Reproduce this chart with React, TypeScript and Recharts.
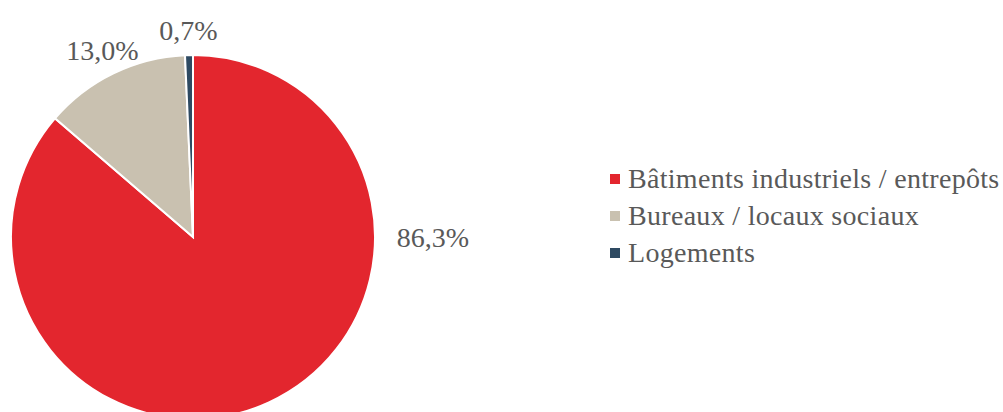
import { Legend, Pie, PieChart } from 'recharts';

const categories = ['Bâtiments industriels / entrepôts', 'Bureaux / locaux sociaux', 'Logements'];
const shares = [86.3, 13.0, 0.7];
const sliceColors = ['#E3262E', '#C9C1B0', '#2E4A62'];

const data = categories.map((name, i) => ({ name, value: shares[i], fill: sliceColors[i] }));

const TEXT = '#595959';
const FONT = '"Liberation Serif", "Times New Roman", serif';
const RAD = Math.PI / 180;

function formatPct(v: number) {
  return `${v.toFixed(1).replace('.', ',')}%`;
}

// Excel parks the big slice's label on the right side; the small ones sit on their mid angle
function SliceLabel(props: any) {
  const { cx, cy, midAngle, outerRadius, value, index } = props;
  const big = index === 0;
  const angle = big ? 0 : midAngle;
  const r = outerRadius + (big ? 58 : 25);
  const x = cx + r * Math.cos(-angle * RAD);
  const y = cy + r * Math.sin(-angle * RAD);
  return (
    <text x={x} y={y} fill={TEXT} fontFamily={FONT} fontSize={28} textAnchor="middle" dominantBaseline="central">
      {formatPct(value)}
    </text>
  );
}

// keep the slice order (recharts sorts legend items by name otherwise)
function LegendList(props: any) {
  const items = [...(props.payload ?? [])].sort(
    (a: any, b: any) => categories.indexOf(a.value) - categories.indexOf(b.value)
  );
  return (
    <div style={{ fontFamily: FONT, fontSize: 28, color: TEXT, lineHeight: '37px', letterSpacing: 0.3 }}>
      {items.map((it: any) => (
        <div key={it.value} style={{ display: 'flex', alignItems: 'center', whiteSpace: 'nowrap' }}>
          <span style={{ width: 10, height: 10, background: it.color, marginRight: 8, flex: 'none' }} />
          <span>{it.value}</span>
        </div>
      ))}
    </div>
  );
}

export default function App() {
  return (
    <div style={{ position: 'absolute', left: 0, top: 0, background: '#fff' }}>
      <PieChart width={1003} height={412} margin={{ top: 0, right: 0, bottom: 0, left: 0 }}>
        <Pie
          data={data}
          dataKey="value"
          nameKey="name"
          cx={193}
          cy={237}
          outerRadius={182}
          startAngle={90}
          endAngle={-270}
          stroke="#fff"
          strokeWidth={2}
          label={SliceLabel}
          labelLine={false}
          isAnimationActive={false}
        />
        <Legend
          content={LegendList}
          layout="vertical"
          wrapperStyle={{ position: 'absolute', left: 610, top: 160, width: 393 }}
        />
      </PieChart>
    </div>
  );
}
